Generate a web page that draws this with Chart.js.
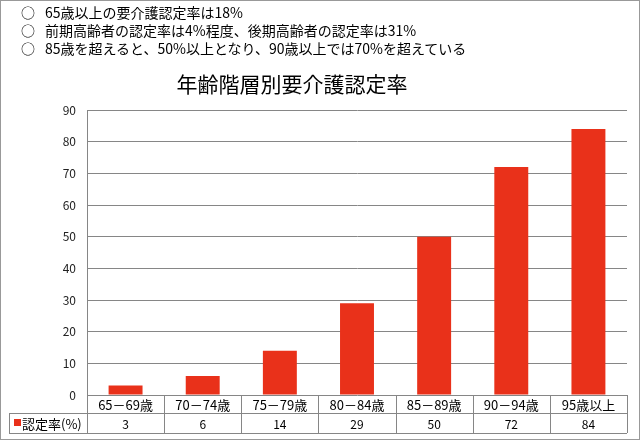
<!DOCTYPE html>
<html>
<head>
<meta charset="utf-8">
<script src="https://cdn.jsdelivr.net/npm/chart.js@4"></script>
<style>
  body { margin: 0; background: #fff; }
  #wrap { position: relative; width: 640px; height: 440px; }
  #chart { position: absolute; left: 0; top: 0; }
  .note { position: absolute; left: 0; font-family: "Noto Sans CJK JP", sans-serif; font-size: 14px; line-height: 18px; color: #000; white-space: nowrap; }
  .note .mark { position: absolute; left: 21px; }
  .note .txt { position: absolute; left: 45px; }
</style>
</head>
<body>
<div id="wrap">
  <canvas id="chart" width="640" height="440"></canvas>
  <div class="note" style="top:3px"><span class="mark">○</span><span class="txt">65歳以上の要介護認定率は18%</span></div>
  <div class="note" style="top:21px"><span class="mark">○</span><span class="txt">前期高齢者の認定率は4%程度、後期高齢者の認定率は31%</span></div>
  <div class="note" style="top:39px"><span class="mark">○</span><span class="txt">85歳を超えると、50%以上となり、90歳以上では70%を超えている</span></div>
</div>
<script>
// data
const ageGroups = ['65－69歳', '70－74歳', '75－79歳', '80－84歳', '85－89歳', '90－94歳', '95歳以上'];
const rates = [3, 6, 14, 29, 50, 72, 84];
const seriesName = '認定率(%)';
const chartTitle = '年齢階層別要介護認定率';

const jpFont = '"Noto Sans CJK JP", sans-serif';
const barColor = '#E9311A';
const lineColor = '#868686';

// background, outer frame, title and the data table under the axis
const tablePlugin = {
  id: 'tablePlugin',
  beforeDraw(chart) {
    const ctx = chart.ctx;
    ctx.save();
    ctx.fillStyle = '#fff';
    ctx.fillRect(0, 0, chart.width, chart.height);
    ctx.restore();
  },
  afterDraw(chart) {
    const ctx = chart.ctx;
    const area = chart.chartArea;
    const x = chart.scales.x;
    const n = ageGroups.length;
    const cellW = (area.right - area.left) / n;
    const row1 = area.bottom;
    const row2 = row1 + 18;
    const row3 = row2 + 20;
    const legendLeft = 9;

    ctx.save();
    // frame
    ctx.strokeStyle = '#999';
    ctx.lineWidth = 1;
    ctx.strokeRect(0.5, 0.5, 639, 439);

    // title
    ctx.fillStyle = '#000';
    ctx.font = '21px ' + jpFont;
    ctx.textAlign = 'center';
    ctx.textBaseline = 'middle';
    ctx.fillText(chartTitle, 292, 84);

    // table lines
    ctx.strokeStyle = lineColor;
    ctx.beginPath();
    ctx.moveTo(legendLeft, row2 + 0.5);
    ctx.lineTo(area.right, row2 + 0.5);
    ctx.moveTo(legendLeft, row3 + 0.5);
    ctx.lineTo(area.right, row3 + 0.5);
    ctx.moveTo(legendLeft + 0.5, row2);
    ctx.lineTo(legendLeft + 0.5, row3);
    for (let i = 0; i <= n; i++) {
      const px = Math.round(area.left + i * cellW) + 0.5;
      ctx.moveTo(px, row1);
      ctx.lineTo(px, row3);
    }
    ctx.stroke();

    // category labels and values
    ctx.fillStyle = '#000';
    for (let i = 0; i < n; i++) {
      const cx = x.getPixelForValue(i);
      ctx.font = '13px ' + jpFont;
      ctx.fillText(ageGroups[i], cx, (row1 + row2) / 2 + 1);
      ctx.font = '12px ' + jpFont;
      ctx.fillText(String(rates[i]), cx, (row2 + row3) / 2 + 1);
    }

    // legend key
    ctx.fillStyle = barColor;
    ctx.fillRect(14, 419, 7, 7);
    ctx.fillStyle = '#000';
    ctx.font = '13px ' + jpFont;
    ctx.textAlign = 'left';
    ctx.fillText(seriesName, 22, (row2 + row3) / 2 + 1);
    ctx.restore();
  }
};

new Chart(document.getElementById('chart'), {
  type: 'bar',
  data: {
    labels: ageGroups,
    datasets: [{
      label: seriesName,
      data: rates,
      backgroundColor: barColor,
      borderWidth: 0,
      categoryPercentage: 1,
      barPercentage: 0.44
    }]
  },
  options: {
    responsive: false,
    animation: false,
    layout: { padding: { left: 0, right: 13, top: 110, bottom: 45 } },
    plugins: {
      legend: { display: false },
      title: { display: false },
      tooltip: { enabled: false }
    },
    scales: {
      x: { display: false },
      y: {
        min: 0,
        max: 90,
        afterFit(scale) { scale.width = 87; },
        ticks: {
          stepSize: 10,
          padding: 11,
          color: '#222',
          font: { family: jpFont, size: 12 }
        },
        grid: { color: lineColor, drawTicks: false },
        border: { display: true, color: lineColor }
      }
    }
  },
  plugins: [tablePlugin]
});
</script>
</body>
</html>
